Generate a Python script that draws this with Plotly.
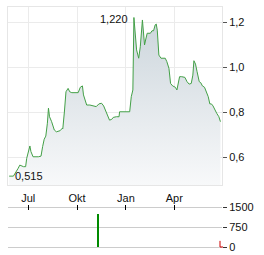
import plotly.graph_objects as go

dates = [
    "2023-05-26", "2023-06-03", "2023-06-12", "2023-06-15", "2023-06-22", "2023-06-26",
    "2023-06-28", "2023-07-01", "2023-07-04", "2023-07-06", "2023-07-10", "2023-07-20",
    "2023-07-25", "2023-07-28", "2023-07-31", "2023-08-03", "2023-08-06", "2023-08-08",
    "2023-08-10", "2023-08-14", "2023-08-19", "2023-08-23", "2023-08-30", "2023-09-03",
    "2023-09-04", "2023-09-07", "2023-09-10", "2023-09-14", "2023-09-17", "2023-09-21",
    "2023-10-03", "2023-10-07", "2023-10-11", "2023-10-13", "2023-10-19", "2023-10-25",
    "2023-10-31", "2023-11-06", "2023-11-11", "2023-11-16", "2023-11-20", "2023-11-24",
    "2023-11-28", "2023-12-01", "2023-12-05", "2023-12-08", "2023-12-14", "2023-12-19",
    "2023-12-20", "2024-01-05", "2024-01-08", "2024-01-11", "2024-01-14", "2024-01-16",
    "2024-01-19", "2024-01-21", "2024-01-25", "2024-01-28", "2024-02-01", "2024-02-05",
    "2024-02-07", "2024-02-10", "2024-02-16", "2024-02-19", "2024-02-22", "2024-02-25",
    "2024-02-27", "2024-02-29", "2024-03-03", "2024-03-07", "2024-03-15", "2024-03-18",
    "2024-03-22", "2024-03-25", "2024-03-29", "2024-04-03", "2024-04-06", "2024-04-09",
    "2024-04-11", "2024-04-15", "2024-04-21", "2024-04-25", "2024-04-29", "2024-05-03",
    "2024-05-06", "2024-05-08", "2024-05-11", "2024-05-14", "2024-05-18", "2024-05-21",
    "2024-05-24", "2024-05-28", "2024-06-01", "2024-06-04", "2024-06-07", "2024-06-10",
    "2024-06-13", "2024-06-16", "2024-06-20", "2024-06-24", "2024-06-27",
]
prices = [
    0.515, 0.515, 0.550, 0.564, 0.557, 0.557,
    0.594, 0.616, 0.649, 0.624, 0.601, 0.601,
    0.604, 0.646, 0.679, 0.693, 0.750, 0.817,
    0.779, 0.757, 0.720, 0.712, 0.717, 0.728,
    0.725, 0.800, 0.890, 0.905, 0.890, 0.886,
    0.886, 0.910, 0.916, 0.876, 0.831, 0.831,
    0.827, 0.824, 0.836, 0.839, 0.827, 0.801,
    0.779, 0.764, 0.767, 0.776, 0.779, 0.779,
    0.801, 0.801, 0.801, 0.868, 0.898, 1.220,
    1.150, 1.076, 1.039, 1.090, 1.209, 1.098,
    1.120, 1.150, 1.150, 1.161, 1.161, 1.187,
    1.191, 1.164, 1.053, 1.039, 1.039, 1.024,
    0.994, 0.927, 0.916, 0.910, 0.898, 0.927,
    0.957, 0.957, 0.954, 0.935, 0.924, 0.927,
    0.964, 1.028, 1.013, 0.979, 0.935, 0.930,
    0.916, 0.910, 0.886, 0.868, 0.836, 0.836,
    0.827, 0.809, 0.794, 0.779, 0.757,
]
vol_dates = ["2023-11-09"]
volumes = [1250]

month_ticks = ["2023-07-01", "2023-10-01", "2024-01-01", "2024-04-01"]
month_labels = ["Jul", "Okt", "Jan", "Apr"]
price_ticks = [0.6, 0.8, 1.0, 1.2]
vol_ticks = [0, 750, 1500]
vol_labels = ["0", "750", "1500"]

FONT = "Liberation Sans, Arial, sans-serif"
W, H = 264, 255
ml, mr, mt, mb = 8, 42, 7, 5
ph = H - mt - mb

fig = go.Figure()
fig.add_trace(go.Scatter(
    x=dates, y=prices, mode="lines",
    line=dict(color="#43a047", width=1),
    fill="tozeroy",
    fillgradient=dict(type="vertical", start=0.47, stop=1.27,
                      colorscale=[[0, "#f8f9fa"], [1, "#c9d3da"]]),
    xaxis="x", yaxis="y", hoverinfo="skip",
))
fig.add_trace(go.Bar(
    x=vol_dates, y=volumes, marker=dict(color="#008a00", line=dict(width=0)),
    width=86400000 * 1.9, xaxis="x2", yaxis="y2",
))

imax = prices.index(max(prices))
imin = prices.index(min(prices))
fmt = lambda v: f"{v:.3f}".replace(".", ",")
fig.add_annotation(x=dates[imax], y=prices[imax], text=fmt(prices[imax]),
                   showarrow=False, xanchor="right", yanchor="middle", xshift=-4, yshift=-1,
                   font=dict(size=11, color="#111", family=FONT), xref="x", yref="y")
fig.add_annotation(x=dates[imin], y=prices[imin], text=fmt(prices[imin]),
                   showarrow=False, xanchor="left", yanchor="middle", xshift=4, yshift=0,
                   font=dict(size=11, color="#111", family=FONT), xref="x", yref="y")

xr = ["2023-05-23 19:00", "2024-06-29 22:00"]
main_bottom = (H - mb - 185) / ph
pad = 75
px_per = 40 / 1500
v_top_px = 207 - pad * px_per
v_bot_px = 247 + pad * px_per
vol_dom = [(H - mb - v_bot_px) / ph, (H - mb - v_top_px) / ph]

fig.update_layout(
    width=W, height=H, margin=dict(l=ml, r=mr, t=mt, b=mb, autoexpand=False),
    paper_bgcolor="white", plot_bgcolor="white", showlegend=False,
    separators=",.", font=dict(family=FONT, size=11, color="#111"),
    bargap=0,
    xaxis=dict(domain=[0, 1], range=xr, type="date", tickvals=month_ticks,
               showticklabels=False, ticks="", showgrid=True, gridcolor="#ebebeb",
               gridwidth=1, showline=True, mirror=True, linecolor="#e6e6e6",
               linewidth=1, anchor="y", zeroline=False, automargin=False),
    yaxis=dict(domain=[main_bottom, 1], range=[0.4756, 1.2667], side="right",
               tickvals=price_ticks, tickformat=".1f", ticks="outside", ticklen=4,
               tickcolor="#555", showgrid=True, gridcolor="#ebebeb", showline=True,
               mirror=True, linecolor="#e6e6e6", zeroline=False, anchor="x",
               tickfont=dict(size=11, color="#111"), automargin=False,
               ticklabeloverflow="allow"),
    xaxis2=dict(domain=[0, 1], range=xr, type="date", tickvals=month_ticks,
                ticktext=month_labels, side="top", anchor="y2", ticks="inside",
                ticklen=5, tickcolor="#000", showgrid=False, showline=False,
                zeroline=False, tickfont=dict(size=11, color="#111"), automargin=False,
                ticklabeloverflow="allow"),
    yaxis2=dict(domain=vol_dom, range=[-pad, 1500 + pad], side="right", anchor="x2",
                tickvals=vol_ticks, ticktext=vol_labels, ticks="outside", ticklen=4,
                tickcolor="#333", showgrid=True, gridcolor="#cccccc", showline=False,
                zeroline=False, tickfont=dict(size=11, color="#111"), automargin=False,
                ticklabeloverflow="allow"),
)

fig.add_shape(type="path", xref="paper", yref="y2",
              path=f"M {1 - 2/214} 230 L {1 - 2/214} 0 L {1 + 1/214} 0",
              line=dict(color="#cc0000", width=1))

fig.write_html("out.html")
